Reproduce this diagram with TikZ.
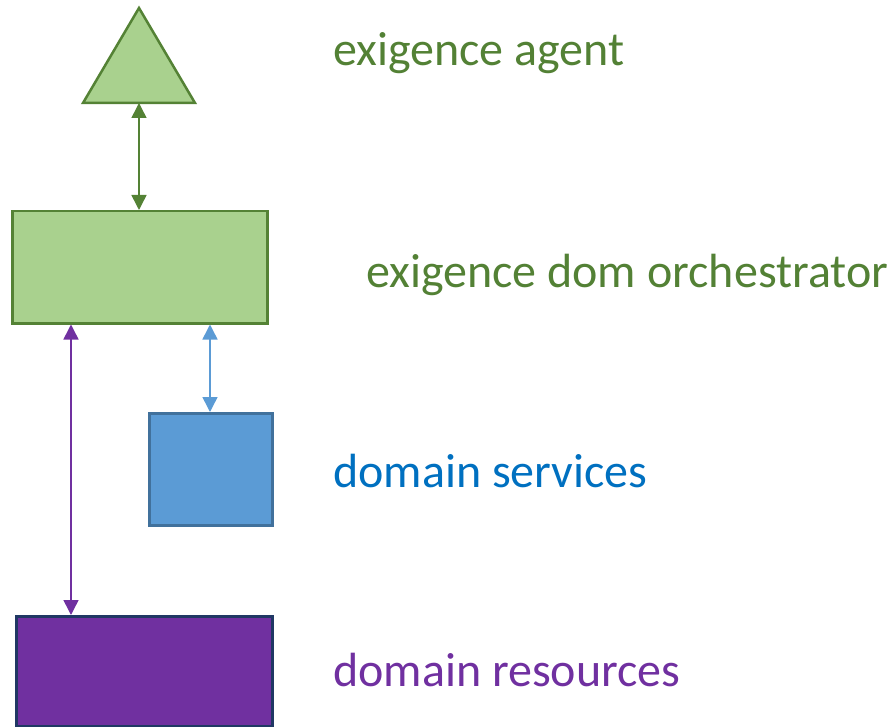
\documentclass[tikz,border=0pt]{standalone}
\usepackage{fontspec}
\setmainfont{Carlito}
\usetikzlibrary{arrows.meta}
\definecolor{agentfill}{HTML}{A9D18E}
\definecolor{agentline}{HTML}{548235}
\definecolor{agenttext}{HTML}{538135}
\definecolor{svcfill}{HTML}{5B9BD5}
\definecolor{svcline}{HTML}{41719C}
\definecolor{svctext}{HTML}{0070C0}
\definecolor{resfill}{HTML}{7030A0}
\definecolor{resline}{HTML}{203864}
\tikzset{
  box/.style={draw, line width=2.5pt, inner sep=0pt, anchor=north west},
  label/.style={anchor=base west, inner sep=0pt, font=\fontsize{48}{56}\selectfont},
  link/.style={line width=1.5pt, {Triangle[width=15pt,length=15pt]}-{Triangle[width=15pt,length=15pt]}}
}
\begin{document}
\begin{tikzpicture}[x=1pt,y=-1pt]
\useasboundingbox (0,0) rectangle (894,727);
% agent triangle
\draw[line width=2.5pt, draw=agentline, fill=agentfill, line join=miter]
  (139,8) -- (195,103) -- (83,103) -- cycle;
\coordinate (agent) at (139,103);
% boxes
\node[box, draw=agentline, fill=agentfill, minimum width=255pt, minimum height=112pt] (orch) at (11,210) {};
\node[box, draw=svcline, fill=svcfill, minimum width=123pt, minimum height=112pt] (svc) at (148,412) {};
\node[box, draw=resline, fill=resfill, minimum width=256pt, minimum height=110pt] (res) at (15,615) {};
% connectors
\draw[link, agentline] (agent) -- (orch.north west -| agent);
\coordinate (svctop) at (210,412);
\draw[link, svcfill] (orch.south west -| svctop) -- (svctop);
\coordinate (restop) at (71,615);
\draw[link, resfill] (orch.south west -| restop) -- (restop);
% labels
\node[label, text=agenttext] (tagent) at (333,66) {exigence agent};
\node[label, text=agenttext] (torch) at (366,288) {exigence dom orchestrator};
\node[label, text=svctext] (tsvc) at (333,487) {domain services};
\node[label, text=resfill] (tres) at (333,686) {domain resources};
\end{tikzpicture}
\end{document}
